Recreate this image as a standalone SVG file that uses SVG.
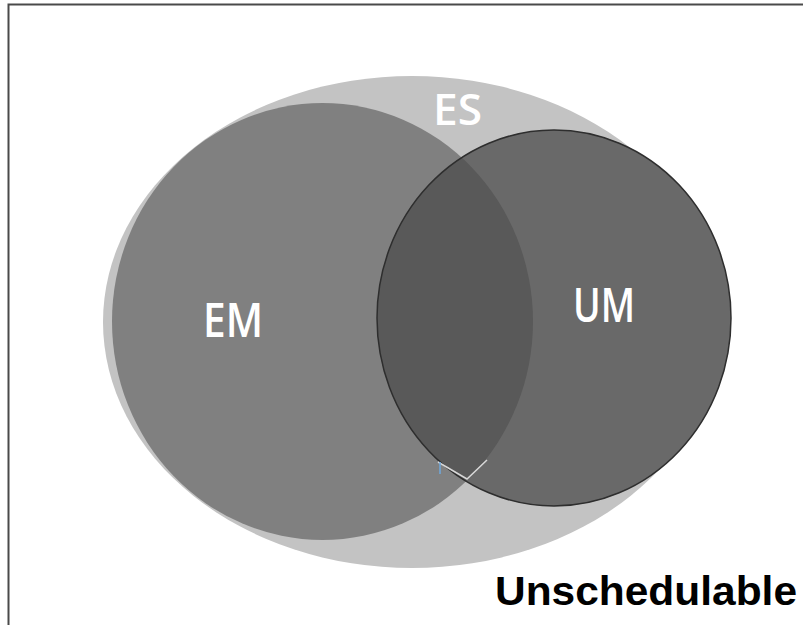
<svg xmlns="http://www.w3.org/2000/svg" width="803" height="625" viewBox="0 0 803 625">
  <style>
    .lbl { fill: #ffffff; font-family: "Open Sans", "Liberation Sans", sans-serif; font-weight: 600; }
    .title { fill: #000000; font-family: "Liberation Sans", Arial, sans-serif; font-weight: bold; }
  </style>
  <defs>
    <clipPath id="umClip">
      <ellipse cx="554" cy="318" rx="177" ry="188"/>
    </clipPath>
  </defs>
  <rect x="0" y="0" width="803" height="625" fill="#ffffff"/>
  <rect id="frame" x="8.5" y="4.5" width="900" height="700" fill="none" stroke="#4a4a4a" stroke-width="2"/>
  <g id="ES">
    <ellipse cx="412" cy="322" rx="309" ry="246" fill="#c3c3c3"/>
    <text class="lbl" x="433" y="125" font-size="44" textLength="49" lengthAdjust="spacingAndGlyphs">ES</text>
  </g>
  <g id="EM">
    <ellipse cx="322.5" cy="321.5" rx="210.5" ry="218.5" fill="#808080"/>
    <text class="lbl" x="203" y="337" font-size="47" textLength="60" lengthAdjust="spacingAndGlyphs">EM</text>
  </g>
  <g id="UM">
    <ellipse cx="554" cy="318" rx="177" ry="188" fill="#696969"/>
    <ellipse cx="322.5" cy="321.5" rx="210.5" ry="218.5" fill="#595959" clip-path="url(#umClip)"/>
    <ellipse cx="554" cy="318" rx="177" ry="188" fill="none" stroke="#2e2e2e" stroke-width="1.5"/>
    <text class="lbl" x="573" y="322" font-size="47" textLength="62" lengthAdjust="spacingAndGlyphs">UM</text>
  </g>
  <g id="connectors">
    <path d="M438,462 L467,479 L487,460" fill="none" stroke="#d8d8d8" stroke-width="1.5"/>
    <line x1="440" y1="462" x2="440" y2="474" stroke="#6fa8dc" stroke-width="1.5"/>
  </g>
  <g id="Unschedulable">
    <text class="title" x="495" y="605" font-size="40" textLength="302" lengthAdjust="spacingAndGlyphs">Unschedulable</text>
  </g>
</svg>
